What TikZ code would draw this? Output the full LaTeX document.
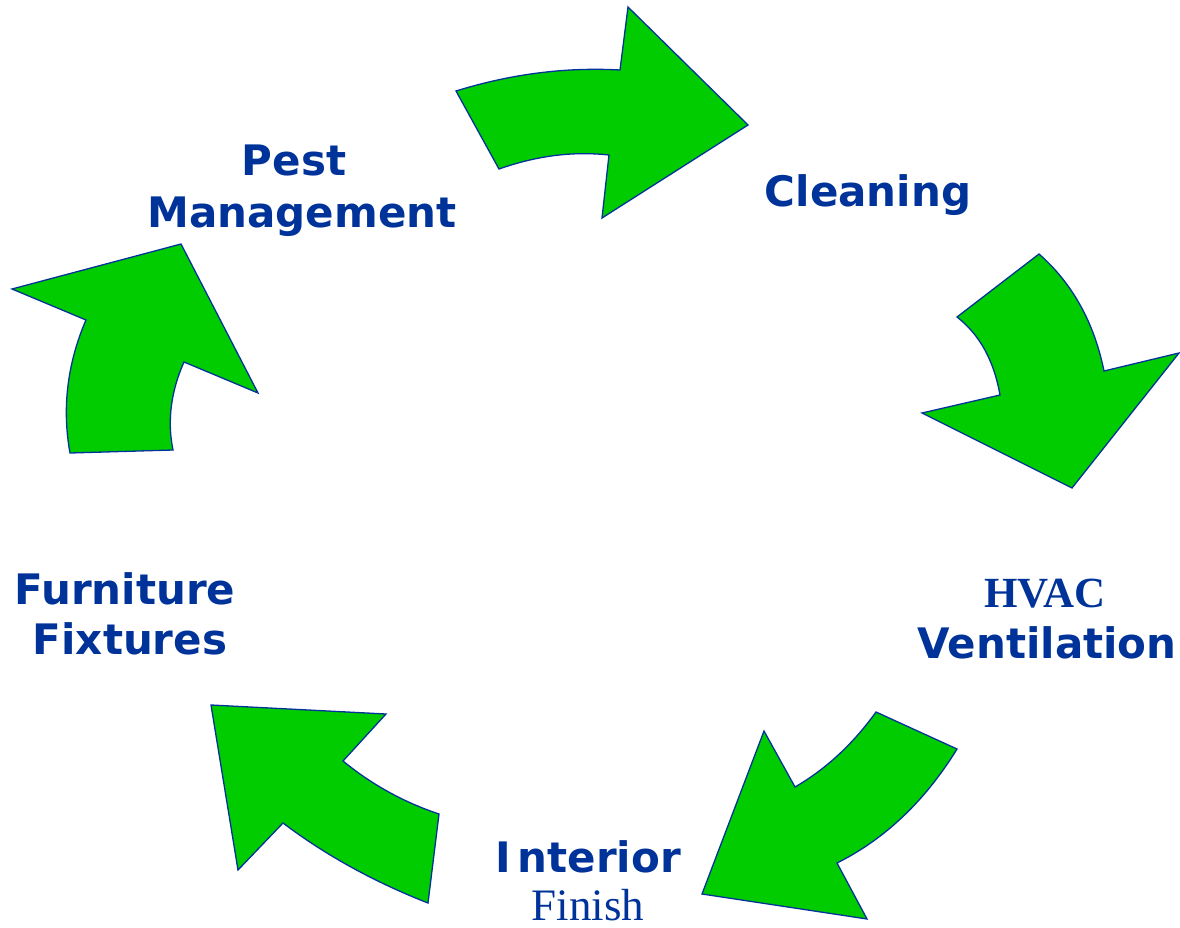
\documentclass[tikz,border=0pt]{standalone}
\usepackage{fontspec}
\usepackage{tikz}
\newfontfamily\cyclefont{DejaVu Sans}
\newfontfamily\timesfont{Liberation Serif}
\definecolor{cyclegreen}{RGB}{0,204,0}
\definecolor{cycleblue}{RGB}{0,51,153}

\begin{document}
\begin{tikzpicture}[x=1pt, y=-1pt,
  every node/.style={inner sep=0pt, anchor=base, text=cycleblue},
  bend arrow/.style={fill=cyclegreen, draw=cycleblue, line width=1.3pt, line join=miter},
  theme/.style={font=\cyclefont\bfseries\fontsize{42}{50}\selectfont},
  theme serif/.style={font=\timesfont\fontsize{45}{54}\selectfont},
  ]
  \useasboundingbox (0,0) rectangle (1180,928);

  % arrows, clockwise from the top
  \draw[bend arrow] (456,91) .. controls (511,74) and (565,67) .. (620,70) -- (628,7) -- (748,125)
    -- (602,218) -- (609,155) .. controls (572,151) and (536,156) .. (499,169) -- cycle;
  \draw[bend arrow] (1039,254) .. controls (1072,283) and (1094,322) .. (1104,371) -- (1179,353)
    -- (1072,488) -- (922,413) -- (1000,395) .. controls (994,361) and (980,335) .. (957,317) -- cycle;
  \draw[bend arrow] (876,712) -- (957,749) .. controls (925,801) and (885,839) .. (837,863) -- (867,919)
    -- (702,894) -- (764,731) -- (795,787) .. controls (826,769) and (853,744) .. (876,712) -- cycle;
  \draw[bend arrow] (439,814) -- (428,903) .. controls (377,883) and (328,857) .. (283,823) -- (238,870)
    -- (211,705) -- (386,714) -- (343,761) .. controls (371,784) and (403,802) .. (439,814) -- cycle;
  \draw[bend arrow] (70,453) -- (173,450) .. controls (167,421) and (171,391) .. (184,362) -- (258,393)
    -- (181,244) -- (12,289) -- (86,320) .. controls (67,364) and (62,409) .. (70,453) -- cycle;

  % labels
  \node[theme] (pest) at (294,176) {Pest};
  \node[theme] (mgmt) at (302,227) {Management};
  \node[theme] (clean) at (868,207) {Cleaning};
  \node[theme serif, font=\timesfont\bfseries\fontsize{43}{50}\selectfont] (hvac) at (1045,607) {HVAC};
  \node[theme] (vent) at (1047,658) {Ventilation};
  \node[theme] (inter) at (588,872) {I\,nterior};
  \node[theme serif, text depth=0pt] (finish) at (588,920) {Finish};
  \node[theme] (furn) at (125,604) {Furniture};
  \node[theme] (fixt) at (130,654) {Fixtures};
\end{tikzpicture}
\end{document}
